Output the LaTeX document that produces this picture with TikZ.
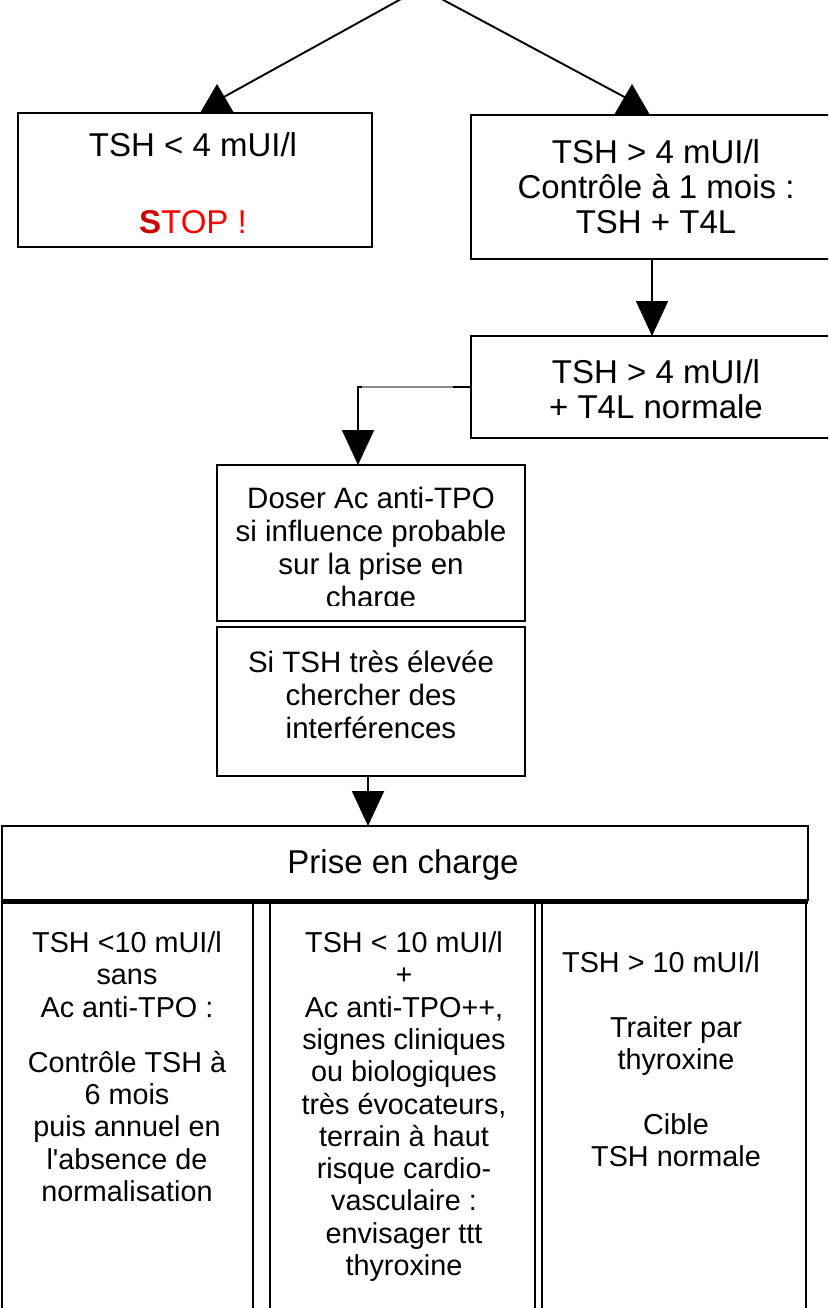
\documentclass[tikz,border=0pt]{standalone}
\usepackage{fontspec}
\setmainfont{Liberation Sans}
\usetikzlibrary{arrows.meta,calc}
\definecolor{stopred}{RGB}{255,0,0}
\definecolor{stopdark}{RGB}{205,0,0}
\begin{document}
\begin{tikzpicture}[x=1pt,y=-1pt,
  box/.style={draw=black,line width=1.8pt,inner sep=0pt,outer sep=0pt,rectangle},
  bigtxt/.style={font=\fontsize{33}{35}\selectfont,align=center,inner sep=0pt,anchor=north},
  midtxt/.style={font=\fontsize{29.5}{33}\selectfont,align=center,inner sep=0pt,anchor=north},
  coltxt/.style={font=\fontsize{28.8}{32.3}\selectfont,align=center,inner sep=0pt,anchor=north},
  conn/.style={draw=black,line width=1.9pt},
  arr/.style={conn,-{Triangle[width=32pt,length=35pt]}},
  fadeseg/.style={draw=black!45,line width=2.2pt},
  bar/.style={draw=black,line width=4.6pt}
]
\useasboundingbox (0,0) rectangle (828,1308);
\clip (0,0) rectangle (828,1308);

% boxes
\node[box,minimum width=354pt,minimum height=134pt] (lbox) at (195,180) {};
\node[box,minimum width=362pt,minimum height=144pt] (rbox) at (652,187) {};
\node[box,minimum width=362pt,minimum height=102pt] (box3) at (652,387) {};
\node[box,minimum width=308pt,minimum height=156pt] (box4) at (371,543) {};
\node[box,minimum width=308pt,minimum height=149pt] (box5) at (371,701.5) {};
\node[box,minimum width=806pt,minimum height=74pt] (prise) at (405,863) {};
\node[box,minimum width=251pt,minimum height=418pt] (col1) at (127.5,1111) {};
\node[box,minimum width=265pt,minimum height=418pt] (col2) at (402.5,1111) {};
\node[box,minimum width=264pt,minimum height=418pt] (col3) at (674,1111) {};
\draw[bar] ([yshift=-1.5pt]prise.south west) -- ([yshift=-1.5pt]prise.south east);

% texts
\node[bigtxt] (ltxt) at (193,132) {\strut TSH < 4 mUI/l\\[42pt]{\bfseries\color{stopdark}S}\textcolor{stopred}{TOP !}};
\node[bigtxt] (rtxt) at (656,139) {\strut TSH > 4 mUI/l\\Contrôle à 1 mois :\\TSH + T4L};
\node[bigtxt] (t3) at (656,359) {\strut TSH > 4 mUI/l\\+ T4L normale};
\begin{scope}
  \clip (217,467) rectangle (525,605);
  \node[midtxt] (t4) at (371,485.5) {\strut Doser Ac anti-TPO\\si influence probable\\sur la prise en\\charge};
\end{scope}
\node[midtxt] (t5) at (371,649.5) {\strut Si TSH très élevée\\chercher des\\interférences};
\node[bigtxt] (tprise) at (403,849) {\strut Prise en charge};
\node[coltxt] (c1t) at (127,929.7) {\strut TSH <10 mUI/l\\sans\\Ac anti-TPO :\\[22.7pt]Contrôle TSH à\\6 mois\\puis annuel en\\l\textquotesingle absence de\\normalisation};
\node[coltxt] (c2t) at (404,929.7) {\strut TSH < 10 mUI/l\\+\\Ac anti-TPO++,\\signes cliniques\\ou biologiques\\très évocateurs,\\terrain à haut\\risque cardio-\\vasculaire :\\envisager ttt\\thyroxine};
\node[coltxt] (c3a) at (661,949.7) {\strut TSH > 10 mUI/l};
\node[coltxt] (c3b) at (676,1014.7) {\strut Traiter par\\thyroxine\\[32.3pt]Cible\\TSH normale};

% connectors
\coordinate (top) at (421,-12);
\draw[conn] (top) -- ($(lbox.north)+(27,-15)$);
\fill ($(lbox.north)+(22,-29)$) -- ($(lbox.north)+(5,0)$) -- ($(lbox.north)+(39,0)$) -- cycle;
\draw[conn] (top) -- ($(rbox.north)+(-22,-15)$);
\fill ($(rbox.north)+(-20,-31)$) -- ($(rbox.north)+(-38,0)$) -- ($(rbox.north)+(-2,0)$) -- cycle;

\draw[arr] (rbox.south) -- (box3.north);
\draw[arr] (box3.west) -| ($(box4.north)+(-13,0)$);
\draw[fadeseg] ($(box3.west)+(-18,0)$) -- ($(box3.west)+(-109,0)$);
\coordinate (a5) at ($(box5.south)+(-3,0)$);
\draw[arr] (a5) -- (a5 |- prise.north);
\end{tikzpicture}
\end{document}
